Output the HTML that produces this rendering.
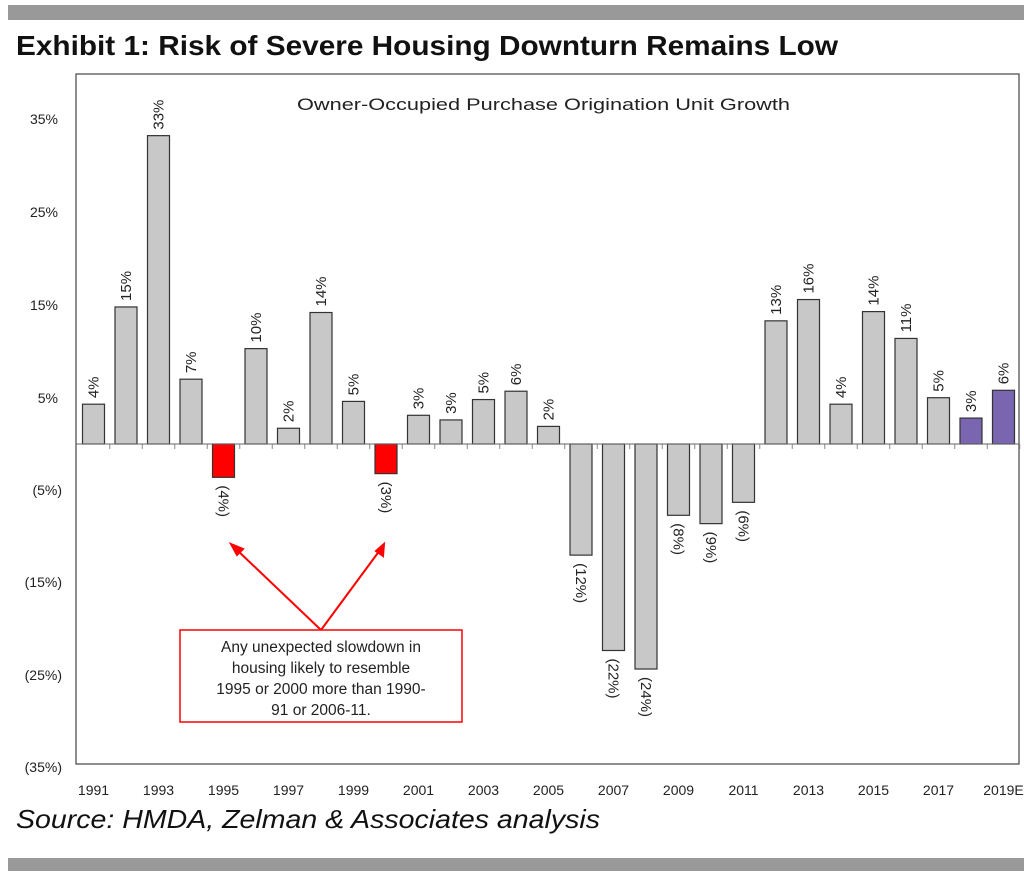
<!DOCTYPE html>
<html><head><style>
body{margin:0;background:#fff;}
svg text{font-family:"Liberation Sans",sans-serif;}
</style></head><body>
<svg width="1024" height="873" viewBox="0 0 1024 873" xmlns="http://www.w3.org/2000/svg">
<rect x="8" y="5" width="1016" height="15" fill="#999"/>
<rect x="8" y="858" width="1016" height="13" fill="#999"/>
<text x="16" y="55" font-size="28" font-weight="bold" fill="#111" textLength="822" lengthAdjust="spacingAndGlyphs">Exhibit 1: Risk of Severe Housing Downturn Remains Low</text>
<rect x="76" y="74" width="943" height="690" fill="none" stroke="#444" stroke-width="1.2"/>
<text x="297" y="110" font-size="17" fill="#222" textLength="493" lengthAdjust="spacingAndGlyphs">Owner-Occupied Purchase Origination Unit Growth</text>
<g font-size="14" fill="#222" text-anchor="end">
<text x="58" y="124">35%</text><text x="58" y="217">25%</text><text x="58" y="310">15%</text><text x="58" y="403">5%</text>
<text x="62" y="495">(5%)</text><text x="62" y="587">(15%)</text><text x="62" y="680">(25%)</text><text x="62" y="772">(35%)</text>
</g>
<g id="bars"></g>
<line x1="76" y1="444" x2="1019" y2="444" stroke="#666" stroke-width="1"/>
<g font-size="14" fill="#222" text-anchor="middle" id="xl"></g>
<text x="16" y="828" font-size="26" font-style="italic" fill="#111" textLength="584" lengthAdjust="spacingAndGlyphs">Source: HMDA, Zelman &amp; Associates analysis</text>
<g stroke="#f00" stroke-width="2" fill="#f00">
<line x1="321" y1="630" x2="236" y2="549"/><polygon points="231,544 243,549 237,555"/>
<line x1="321" y1="630" x2="380" y2="550"/><polygon points="384,544 383,556 376,551"/>
</g>
<rect x="180" y="630" width="282" height="92" fill="#fff" stroke="#f00" stroke-width="1.5"/>
<g font-size="15.5" fill="#222" text-anchor="middle">
<text x="321" y="652">Any unexpected slowdown in</text>
<text x="321" y="673">housing likely to resemble</text>
<text x="321" y="694">1995 or 2000 more than 1990-</text>
<text x="321" y="715">91 or 2006-11.</text>
</g>
</svg>
<script>
(function(){
var v=[4.3,14.8,33.3,7,-3.6,10.3,1.7,14.2,4.6,-3.2,3.1,2.6,4.8,5.7,1.9,-12,-22.3,-24.3,-7.7,-8.6,-6.3,13.3,15.6,4.3,14.3,11.4,5.0,2.8,5.8];
var lab=["4%","15%","33%","7%","(4%)","10%","2%","14%","5%","(3%)","3%","3%","5%","6%","2%","(12%)","(22%)","(24%)","(8%)","(9%)","(6%)","13%","16%","4%","14%","11%","5%","3%","6%"];
var g=document.getElementById('bars'),xl=document.getElementById('xl'),s="";
for(var i=0;i<29;i++){var c=93.5+i*32.5,y0=444,h=v[i]*9.26;
var col=(i==4||i==9)?"#f00":(i>=27?"#7a66b0":"#c8c8c8");
var ty=h>0?y0-h:y0;
s+='<rect x="'+(c-11)+'" y="'+ty+'" width="22" height="'+Math.abs(h)+'" fill="'+col+'" stroke="#333" stroke-width="1.2"/>';
s+='<line x1="'+(c+16.25)+'" y1="444" x2="'+(c+16.25)+'" y2="449" stroke="#888"/>';
if(h>0){s+='<text font-size="15" fill="#222" transform="translate('+(c+5)+','+(ty-6)+') rotate(-90)">'+lab[i]+'</text>';}
else{s+='<text font-size="15" fill="#222" transform="translate('+(c-5)+','+(ty+Math.abs(h)+8)+') rotate(90)">'+lab[i]+'</text>';}
}
g.innerHTML=s;
var t="";for(var i=0;i<29;i+=2){var c=93.5+i*32.5;t+='<text x="'+c+'" y="795">'+(1991+i)+(i==28?'E':'')+'</text>';}
xl.innerHTML=t;
})();
</script>
</body></html>
